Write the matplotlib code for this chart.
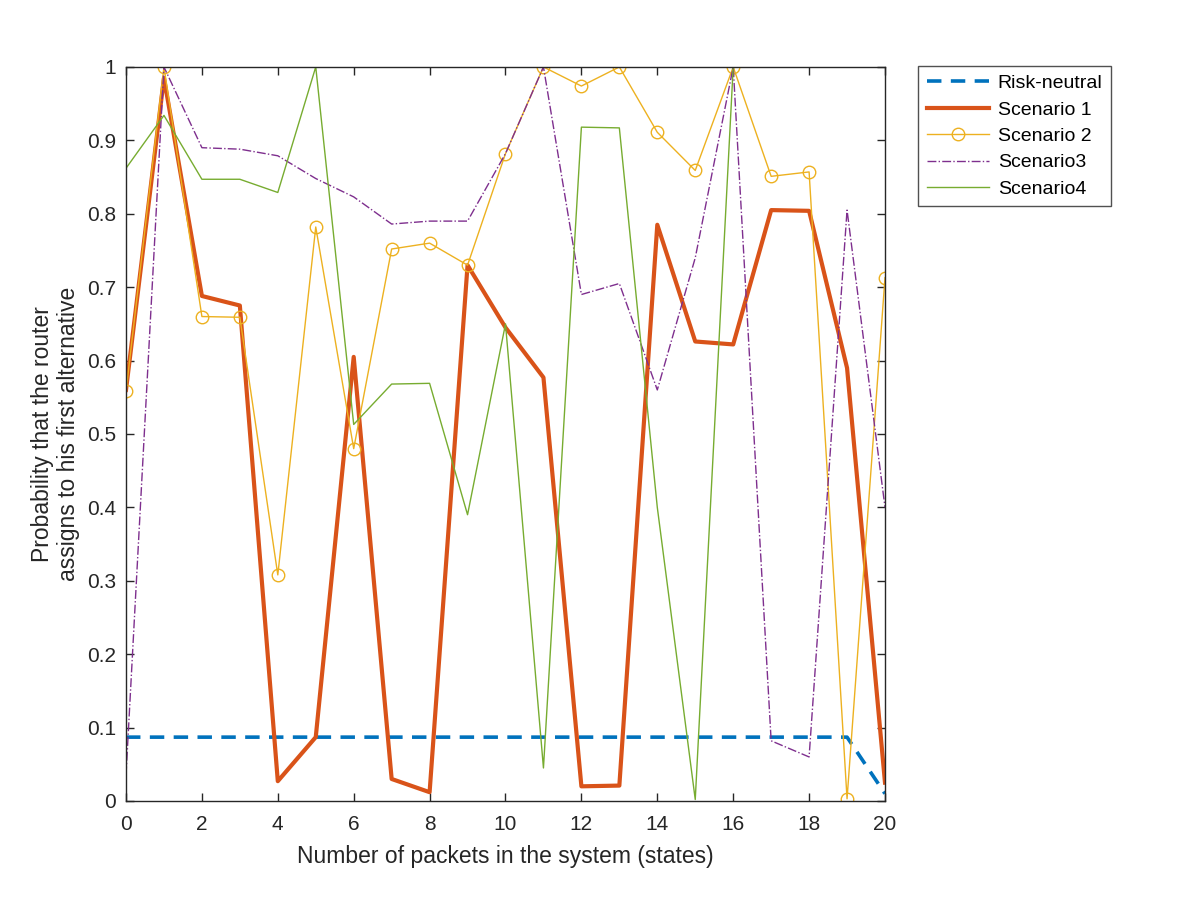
import numpy as np
import matplotlib
matplotlib.use('Agg')
import matplotlib.pyplot as plt

plt.rcParams['font.family'] = ['Liberation Sans', 'DejaVu Sans']

states = list(range(21))
risk_neutral = [0.087] * 20 + [0.01]
scenario1 = [0.56, 0.985, 0.688, 0.675, 0.027, 0.087, 0.605, 0.03, 0.012, 0.73, 0.645,
             0.577, 0.02, 0.021, 0.785, 0.626, 0.622, 0.805, 0.804, 0.59, 0.025]
scenario2 = [0.558, 1.0, 0.66, 0.659, 0.308, 0.782, 0.48, 0.752, 0.76, 0.73, 0.882,
             1.0, 0.974, 1.0, 0.911, 0.859, 1.0, 0.851, 0.857, 0.003, 0.713]
scenario3 = [0.035, 1.0, 0.89, 0.888, 0.879, 0.848, 0.823, 0.786, 0.79, 0.79, 0.882,
             1.0, 0.69, 0.705, 0.56, 0.74, 1.0, 0.082, 0.06, 0.805, 0.4]
scenario4 = [0.862, 0.934, 0.847, 0.847, 0.829, 1.0, 0.513, 0.568, 0.569, 0.39, 0.65,
             0.045, 0.918, 0.917, 0.4, 0.002, 1.0, 1.0, 1.0, 1.0, 1.0]

fig = plt.figure(figsize=(12, 9), dpi=100)
ax = fig.add_axes([0.105, 0.11, 0.6325, 0.8156])

ax.plot(states, risk_neutral, '--', color='#0072BD', lw=2.6, dashes=(4, 2.6), label='Risk-neutral')
ax.plot(states, scenario1, '-', color='#D95319', lw=3.0, label='Scenario 1')
ax.plot(states, scenario2, '-o', color='#EDB120', lw=1.0, ms=9, mfc='none', mew=1.0, label='Scenario 2')
ax.plot(states, scenario3, '-.', color='#7E2F8E', lw=1.0, label='Scenario3')
ax.plot(states, scenario4, '-', color='#77AC30', lw=1.0, label='Scenario4')

ax.set_xlim(0, 20)
ax.set_ylim(0, 1)
ax.set_xticks(range(0, 21, 2))
ax.set_yticks(np.arange(0, 1.01, 0.1))
ax.set_yticklabels(['0', '0.1', '0.2', '0.3', '0.4', '0.5', '0.6', '0.7', '0.8', '0.9', '1'])
ax.tick_params(direction='in', top=True, right=True, length=6, width=1, colors='#262626', labelsize=15)
ax.tick_params(axis='x', pad=10)
ax.tick_params(axis='y', pad=7)
for s in ax.spines.values():
    s.set_color('#262626')
    s.set_linewidth(1.0)

ax.set_xlabel('Number of packets in the system (states)', fontsize=16.5, color='#262626', labelpad=8)
ax.set_ylabel('Probability that the router\nassigns to his first alternative', fontsize=16.5, color='#262626',
              labelpad=5, linespacing=1.2)

leg = ax.legend(loc='upper left', bbox_to_anchor=(1.0435, 1.0014), fontsize=14, frameon=True, fancybox=False,
                edgecolor='#262626', handlelength=3.2, handletextpad=0.45, borderpad=0.45, labelspacing=0.45,
                borderaxespad=0)
leg.get_frame().set_linewidth(1.0)

fig.savefig('out.png', dpi=100, facecolor='white')
